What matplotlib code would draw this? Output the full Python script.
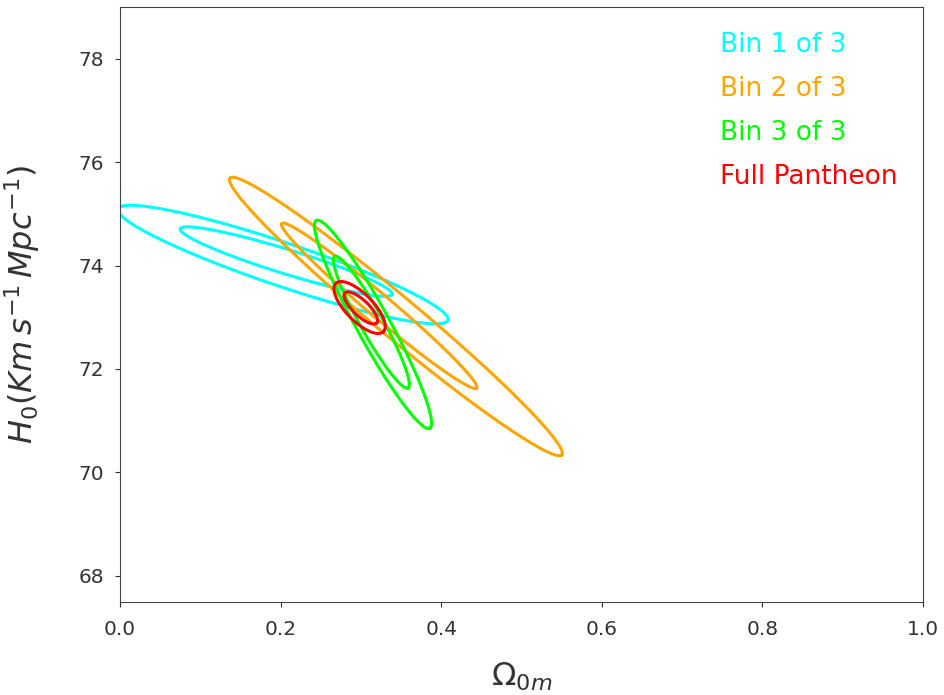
import numpy as np
import matplotlib
matplotlib.use("Agg")
import matplotlib.pyplot as plt

labels = ["Bin 1 of 3", "Bin 2 of 3", "Bin 3 of 3", "Full Pantheon"]
colors = ["cyan", "orange", "lime", "red"]

# confidence contours per series: [outer, inner]
cx = [[0.203, 0.207], [0.3436, 0.3228], [0.3151, 0.313], [0.2984, 0.2999]]
cy = [[74.02, 74.077], [73.016, 73.222], [72.865, 72.906], [73.189, 73.181]]
tip_dx = [[0.2055, 0.132], [0.2066, 0.1214], [0.0706, 0.0457], [0.0296, 0.0197]]
tip_dy = [[-1.074, -0.633], [-2.675, -1.591], [-2.009, -1.273], [-0.468, -0.290]]
aspect = [[0.125, 0.11], [0.095, 0.09], [0.14, 0.15], [0.40, 0.36]]

xticks = [0.0, 0.2, 0.4, 0.6, 0.8, 1.0]
yticks = [68, 70, 72, 74, 76, 78]

fig = plt.figure(figsize=(9.45, 6.95), dpi=100)
ax = fig.add_axes([120/945, 1-601.7/695, (923-120)/945, (601.7-7)/695])
ax.set_xlim(0.0, 1.0)
ax.set_ylim(67.5, 79.0)

T = ax.transData
Ti = T.inverted()
t = np.linspace(0, 2*np.pi, 400)
handles = []
for i in range(len(labels)):
    for j in range(2):
        c = T.transform((cx[i][j], cy[i][j]))
        tip = T.transform((cx[i][j] + tip_dx[i][j], cy[i][j] + tip_dy[i][j])) - c
        perp = np.array([-tip[1], tip[0]]) * aspect[i][j]
        pts = c[None, :] + np.cos(t)[:, None]*tip[None, :] + np.sin(t)[:, None]*perp[None, :]
        d = Ti.transform(pts)
        ln, = ax.plot(d[:, 0], d[:, 1], color=colors[i], lw=2.2,
                      label=labels[i] if j == 0 else None)
        if j == 0:
            handles.append(ln)

ax.set_xticks(xticks)
ax.set_xticklabels([f"{v:.1f}" for v in xticks])
ax.set_yticks(yticks)
ax.tick_params(labelsize=14.5, colors="#333333", labelcolor="#333333")
ax.tick_params(axis="x", pad=10)
ax.tick_params(axis="y", pad=8)
for s in ax.spines.values():
    s.set_color("#444444")

ax.set_xlabel(r"$\Omega_{0m}$", fontsize=23, color="#333333", labelpad=15)
ax.set_ylabel(r"$H_0 (Km\, s^{-1}\, Mpc^{-1})$", fontsize=23, color="#333333", labelpad=26)

leg = ax.legend(handles=handles, loc="upper right", frameon=False, handlelength=0,
                handletextpad=0, fontsize=19, labelcolor="linecolor",
                labelspacing=0.68, borderaxespad=0.55)
for h in leg.legend_handles:
    h.set_visible(False)

fig.savefig("out.png", dpi=100)
